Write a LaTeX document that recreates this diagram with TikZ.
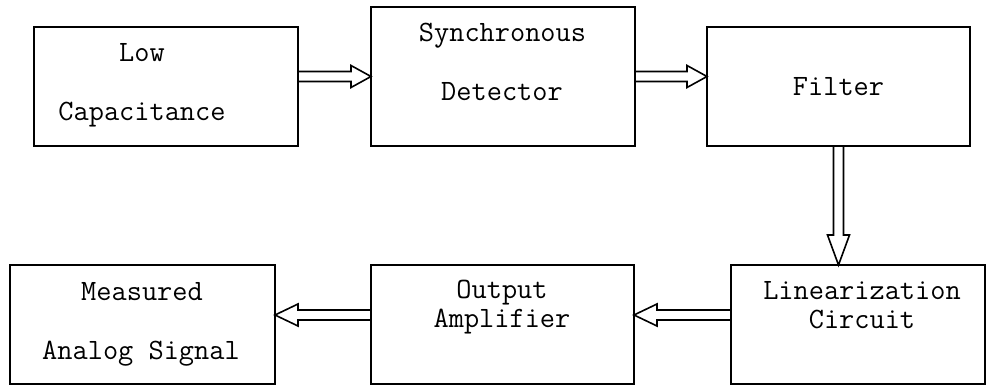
\documentclass[tikz,border=0pt]{standalone}
\usetikzlibrary{calc}
\tikzset{
  blk/.style={draw, line width=1.6pt, inner sep=0pt, outer sep=0pt},
  lbl/.style={font=\ttfamily\fontsize{29.5}{34}\selectfont, anchor=base, inner sep=0pt},
  hollow/.style={draw, line width=1.6pt, line join=miter},
}
% hollow block arrow from #1 to #2, head length #3
\newcommand\hollowarrow[3]{%
  \coordinate (ha-h) at ($(#2)!#3!(#1)$);
  \draw[hollow] ($(#1)!5pt!90:(#2)$) -- ($(ha-h)!5pt!90:(#2)$)
    -- ($(ha-h)!11pt!90:(#2)$) -- (#2) -- ($(ha-h)!11pt!-90:(#2)$)
    -- ($(ha-h)!5pt!-90:(#2)$) -- ($(#1)!5pt!-90:(#2)$);
}
\begin{document}
\begin{tikzpicture}[x=1pt,y=-1pt]
\useasboundingbox (0,0) rectangle (986,385);

% blocks
\node[blk, minimum width=264pt, minimum height=119pt] (low)    at (166,86.5)   {};
\node[blk, minimum width=264pt, minimum height=139pt] (sync)   at (503,76.5)   {};
\node[blk, minimum width=263pt, minimum height=119pt] (filter) at (838.5,86.5) {};
\node[blk, minimum width=265pt, minimum height=119pt] (meas)   at (142.5,324.5) {};
\node[blk, minimum width=263pt, minimum height=119pt] (out)    at (502.5,324.5) {};
\node[blk, minimum width=254pt, minimum height=119pt] (lin)    at (858,324.5)  {};

% labels
\node[lbl] (t-low1)  at (142,62)   {Low};
\node[lbl] (t-low2)  at (142,121)  {Capacitance};
\node[lbl] (t-syn1)  at (502.5,42) {Synchronous};
\node[lbl] (t-syn2)  at (502,101)  {Detector};
\node[lbl] (t-fil)   at (838.5,96) {Filter};
\node[lbl] (t-mea1)  at (142,300)  {Measured};
\node[lbl] (t-mea2)  at (141,359)  {Analog Signal};
\node[lbl] (t-out1)  at (502,298)  {Output};
\node[lbl] (t-out2)  at (502,327)  {Amplifier};
\node[lbl] (t-lin1)  at (862,299)  {Linearization};
\node[lbl] (t-lin2)  at (862,328)  {Circuit};

% signal flow
\coordinate (a1s) at (low.east |- sync.west);
\hollowarrow{a1s}{sync.west}{20pt}
\coordinate (a2e) at (filter.west |- sync.east);
\hollowarrow{sync.east}{a2e}{20pt}
\coordinate (a3e) at (lin.north -| filter.south);
\hollowarrow{filter.south}{a3e}{30pt}
\coordinate (a4s) at ($(lin.west)+(0,-9.5)$);
\coordinate (a4e) at (out.east |- a4s);
\hollowarrow{a4s}{a4e}{23pt}
\coordinate (a5s) at ($(out.west)+(0,-9.5)$);
\coordinate (a5e) at (meas.east |- a5s);
\hollowarrow{a5s}{a5e}{23pt}
\end{tikzpicture}
\end{document}
